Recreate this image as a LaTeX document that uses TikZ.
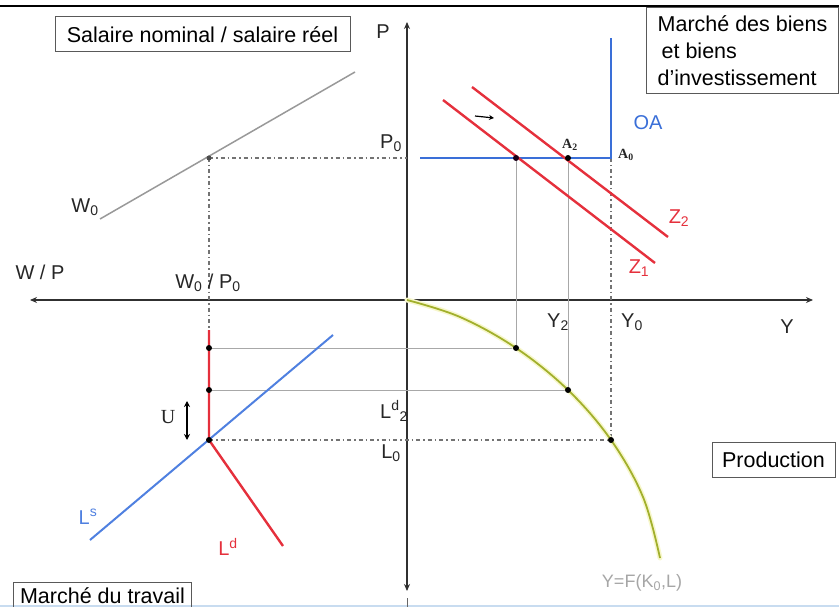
\documentclass[tikz,border=0pt]{standalone}
\usepackage{fontspec}
\setmainfont{Liberation Sans}
\newfontfamily\serifface{Liberation Serif}
\usetikzlibrary{arrows.meta}
\definecolor{zred}{HTML}{E5303C}
\definecolor{oablue}{HTML}{3A6FD8}
\definecolor{lsblue}{HTML}{4F80E0}
\definecolor{prodgreen}{HTML}{A2B02C}
\definecolor{halo}{HTML}{F7F7CC}
\definecolor{gridgray}{HTML}{A8A8A8}
\definecolor{axisgray}{HTML}{303030}
\definecolor{barblue}{HTML}{C8DCF0}
\begin{document}
\begin{tikzpicture}[x=1pt,y=-1pt,
  lbl/.style={inner sep=0pt, font=\fontsize{20}{24}\selectfont, text=black!85},
  boxlbl/.style={draw=black!65, line width=1pt, font=\fontsize{21.5}{27}\selectfont, inner sep=0pt},
  axis/.style={draw=axisgray, line width=2pt, {Stealth[length=7pt,width=6pt]}-{Stealth[length=7pt,width=6pt]}},
  guide/.style={draw=gridgray, line width=0.8pt},
  dashdot/.style={draw=black!55, line width=1.2pt, dash pattern=on 4pt off 3pt on 1.5pt off 3pt},
  dotmark/.style={circle, fill=black, inner sep=0pt, minimum size=6pt},
  redline/.style={draw=zred, line width=2.4pt},
  blueline/.style={draw=oablue, line width=2pt},
]
\useasboundingbox (0,0) rectangle (839,607);
\clip (0,0) rectangle (839,607);

% frame lines
\coordinate (barL) at (0,6);
\coordinate (barR) at (839,6);
\draw[black, line width=2.5pt] (barL) -- (barR);
\coordinate (botL) at (0,606);
\coordinate (botR) at (839,606);
\draw[barblue, line width=2.5pt] (botL) -- (botR);

% axes
\coordinate (O) at (407,300);
\coordinate (ytop) at (407,22);
\coordinate (ybot) at (407,591);
\coordinate (xl) at (30,300);
\coordinate (xr) at (813,300);
\draw[axis] (ytop) -- (ybot);
\draw[axis] (xl) -- (xr);
\coordinate (tickA) at (407,598);
\coordinate (tickB) at (407,607);
\draw[black!60, line width=1pt] (tickA) -- (tickB);

% key points
\coordinate (WP) at (209,158);
\coordinate (P0a) at (407,158);
\coordinate (OAl) at (420,158);
\coordinate (A0) at (611,158);
\coordinate (OAt) at (611,38);
\coordinate (E1) at (516,158);
\coordinate (A2) at (568,158);
\coordinate (F1) at (516,348);
\coordinate (F2) at (568,390);
\coordinate (F0) at (611,440);
\coordinate (N1) at (209,348);
\coordinate (N2) at (209,390);
\coordinate (N0) at (209,440);
\coordinate (Ldtop) at (209,330);
\coordinate (Ldend) at (283,546);
\coordinate (Ls1) at (90,540);
\coordinate (Ls2) at (333,335);
\coordinate (W1) at (100,219);
\coordinate (W2) at (355,72);
\coordinate (Z1a) at (443,100);
\coordinate (Z1b) at (655,263);
\coordinate (Z2a) at (472,87);
\coordinate (Z2b) at (668,237);
\coordinate (vdot) at (209,336);

% guides
\draw[guide] (E1) -- (F1);
\draw[guide] (A2) -- (F2);
\draw[guide] (N1) -- (F1);
\draw[guide] (N2) -- (F2);
\draw[dashdot] (A0) -- (F0);
\draw[dashdot] (N0) -- (F0);
\draw[dashdot] (WP) -- (P0a);
\draw[dashdot] (WP) -- (vdot);

% nominal wage line
\draw[gray!80, line width=1.5pt] (W1) -- (W2);

% OA
\draw[blueline] (OAl) -- (A0) -- (OAt);

% Z curves
\draw[redline] (Z1a) -- (Z1b);
\draw[redline] (Z2a) -- (Z2b);

% shift arrow
\coordinate (sh1) at (475,116);
\coordinate (sh2) at (494,118);
\draw[black, line width=1.2pt, -{Stealth[length=5pt,width=5pt]}] (sh1) -- (sh2);

% production function
\draw[halo, line width=5pt, line cap=round] plot[smooth, tension=0.6] coordinates {(407,300) (460,317) (516,348) (568,390) (611,440) (643,497) (660,558)};
\draw[prodgreen, line width=1.8pt] plot[smooth, tension=0.6] coordinates {(407,300) (460,317) (516,348) (568,390) (611,440) (643,497) (660,558)};

% labour market
\draw[blueline, draw=lsblue] (Ls1) -- (Ls2);
\draw[redline] (Ldtop) -- (N0) -- (Ldend);

% U arrow
\coordinate (U1) at (187,401);
\coordinate (U2) at (187,440);
\draw[black, line width=1.6pt, {Stealth[length=6pt,width=6pt]}-{Stealth[length=6pt,width=6pt]}] (U1) -- (U2);

% dots
\node[dotmark, minimum size=5pt, fill=black!70] (dWP) at (WP) {};
\node[dotmark, fill=black!80!violet] (dE1) at (E1) {};
\node[dotmark] (dA2) at (A2) {};
\node[dotmark] (dN1) at (N1) {};
\node[dotmark] (dN2) at (N2) {};
\node[dotmark] (dN0) at (N0) {};
\node[dotmark] (dF1) at (F1) {};
\node[dotmark] (dF2) at (F2) {};
\node[dotmark] (dF0) at (F0) {};

% boxes
\node[boxlbl, minimum width=295pt, minimum height=35pt] (boxSal) at (202.5,34.5) {Salaire nominal / salaire réel};
\node[boxlbl, anchor=north west, minimum width=192pt, minimum height=86pt, align=left, inner xsep=7pt, inner ysep=5pt] (boxBiens) at (646,7) {Marché des biens\\\hspace{4pt}et biens\\d’investissement};
\node[boxlbl, minimum width=123pt, minimum height=35pt] (boxProd) at (773.5,459.5) {Production};
\node[boxlbl, anchor=north west, minimum width=178pt, minimum height=40pt, text depth=14pt, text height=16pt] (boxTrav) at (13,582) {Marché du travail};

% labels
\node[lbl] (lP) at (383,32) {P};
\node[lbl] (lP0) at (391,143) {P\textsubscript{0}};
\node[lbl] (lW0) at (85,207) {W\textsubscript{0}};
\node[lbl] (lWP) at (40,272) {W / P};
\node[lbl] (lW0P0) at (208,283) {W\textsubscript{0} / P\textsubscript{0}};
\node[lbl] (lY2) at (558,322) {Y\textsubscript{2}};
\node[lbl] (lY0) at (632,322) {Y\textsubscript{0}};
\node[lbl] (lY) at (787,327) {Y};
\node[lbl] (lLd2) at (394,411) {L\textsuperscript{d}\textsubscript{2}};
\node[lbl] (lL0) at (391,453) {L\textsubscript{0}};
\node[lbl, font=\serifface\fontsize{20}{24}\selectfont] (lU) at (168,417) {U};
\node[lbl, text=lsblue] (lLs) at (88,517) {L\textsuperscript{s}};
\node[lbl, text=zred] (lLd) at (228,547) {L\textsuperscript{d}};
\node[lbl, text=oablue] (lOA) at (648,123) {OA};
\node[lbl, text=zred] (lZ2) at (679,218) {Z\textsubscript{2}};
\node[lbl, text=zred] (lZ1) at (639,268) {Z\textsubscript{1}};
\node[lbl, font=\serifface\bfseries\fontsize{14}{16}\selectfont] (lA2) at (570,145) {A\textsubscript{2}};
\node[lbl, font=\serifface\bfseries\fontsize{14}{16}\selectfont] (lA0) at (626,155) {A\textsubscript{0}};
\node[lbl, text=black!35, font=\fontsize{18}{20}\selectfont] (lF) at (642,583) {Y=F(K\textsubscript{0},L)};
\end{tikzpicture}
\end{document}
